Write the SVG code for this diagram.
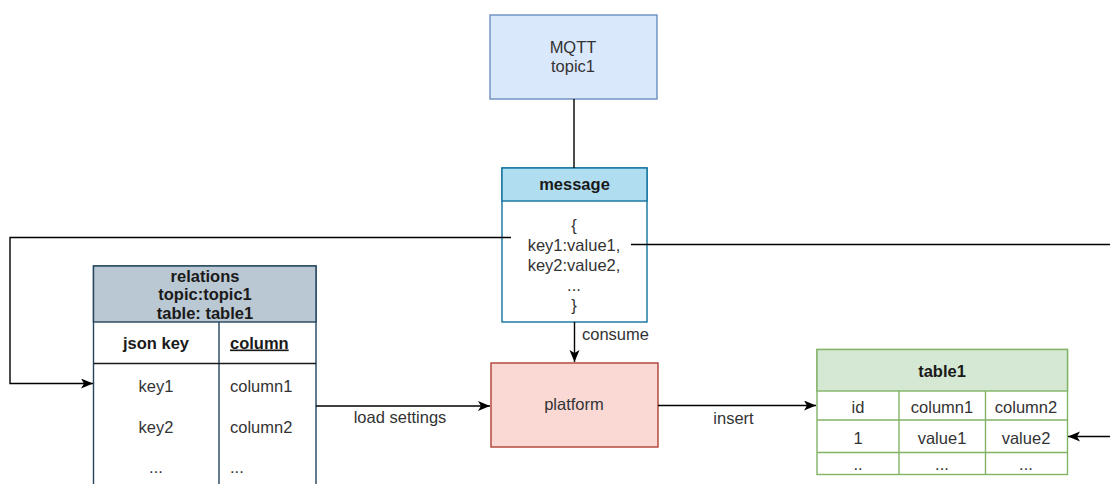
<svg xmlns="http://www.w3.org/2000/svg" width="1110" height="484" viewBox="0 0 1110 484">
<defs>
<style>
text{font-family:"Liberation Sans",Arial,sans-serif;font-size:16.5px;fill:#333333}
.c{text-anchor:middle}
.b{font-weight:bold;fill:#1a1a1a}
.edge{fill:none;stroke:#000;stroke-width:1.4}
</style>
<marker id="arr" markerUnits="userSpaceOnUse" markerWidth="14" markerHeight="12" refX="12" refY="5" orient="auto">
<path d="M0,0 L12,5 L0,10 L3,5 Z" fill="#000"/>
</marker>
</defs>
<rect width="1110" height="484" fill="#ffffff"/>

<g id="mqtt">
<rect x="490" y="15" width="167" height="84" fill="#dae8fc" stroke="#6c8ebf" stroke-width="1.4"/>
<text class="c" x="573" y="52.5">MQTT</text>
<text class="c" x="573" y="72">topic1</text>
</g>

<g id="message">
<rect x="502" y="168" width="145" height="154" fill="#ffffff" stroke="#10739e" stroke-width="1.4"/>
<rect x="502" y="168" width="145" height="33" fill="#b1ddf0" stroke="#10739e" stroke-width="1.4"/>
<text class="c b" x="574.5" y="190">message</text>
<text class="c" x="574" y="231">{</text>
<text class="c" x="574" y="251">key1:value1,</text>
<text class="c" x="574" y="271">key2:value2,</text>
<text class="c" x="574" y="291">...</text>
<text class="c" x="574" y="311">}</text>
</g>

<g id="relations">
<rect x="93.5" y="266" width="222.5" height="240" fill="#ffffff" stroke="#23445d" stroke-width="1.4"/>
<rect x="93.5" y="266" width="222.5" height="56" fill="#bac8d3" stroke="#23445d" stroke-width="1.4"/>
<line x1="219" y1="322" x2="219" y2="490" stroke="#23445d" stroke-width="1.4"/>
<line x1="93.5" y1="363.5" x2="316" y2="363.5" stroke="#1a1a1a" stroke-width="1.4"/>
<text class="c b" x="205" y="281.5">relations</text>
<text class="c b" x="205" y="300">topic:topic1</text>
<text class="c b" x="205" y="319">table: table1</text>
<text class="c b" x="156" y="348.5">json key</text>
<text class="b" x="230" y="348.5" text-decoration="underline">column</text>
<text class="c" x="156" y="391.5">key1</text>
<text x="230" y="391.5">column1</text>
<text class="c" x="156" y="433">key2</text>
<text x="230" y="433">column2</text>
<text class="c" x="156" y="473">...</text>
<text x="230" y="473">...</text>
</g>

<g id="platform">
<rect x="491" y="363" width="167" height="84" fill="#fad9d5" stroke="#ae4132" stroke-width="1.4"/>
<text class="c" x="574" y="410">platform</text>
</g>

<g id="table1">
<rect x="817" y="349.5" width="250.5" height="125" fill="#ffffff" stroke="#82b366" stroke-width="1.4"/>
<rect x="817" y="349.5" width="250.5" height="41.5" fill="#d5e8d4" stroke="#82b366" stroke-width="1.4"/>
<line x1="817" y1="420" x2="1067.5" y2="420" stroke="#82b366" stroke-width="1.4"/>
<line x1="817" y1="452.5" x2="1067.5" y2="452.5" stroke="#82b366" stroke-width="1.4"/>
<line x1="899" y1="391" x2="899" y2="474.5" stroke="#82b366" stroke-width="1.4"/>
<line x1="985.5" y1="391" x2="985.5" y2="474.5" stroke="#82b366" stroke-width="1.4"/>
<text class="c b" x="942" y="377">table1</text>
<text class="c" x="858" y="413">id</text>
<text class="c" x="942" y="413">column1</text>
<text class="c" x="1026" y="413">column2</text>
<text class="c" x="858" y="443.5">1</text>
<text class="c" x="942" y="443.5">value1</text>
<text class="c" x="1026" y="443.5">value2</text>
<text class="c" x="858" y="470">..</text>
<text class="c" x="942" y="470">...</text>
<text class="c" x="1026" y="470">...</text>
</g>

<g id="connectors">
<path class="edge" d="M574,99 V168"/>
<path class="edge" d="M574.5,322 V362" marker-end="url(#arr)"/>
<path class="edge" d="M511,237.5 H10 V383.5 H93" marker-end="url(#arr)"/>
<path class="edge" d="M316,406 H490" marker-end="url(#arr)"/>
<path class="edge" d="M658,405.5 H816" marker-end="url(#arr)"/>
<path class="edge" d="M631,244.5 H1130 V436.5 H1068" marker-end="url(#arr)"/>
<text x="582" y="340">consume</text>
<text class="c" x="400" y="423">load settings</text>
<text class="c" x="733.5" y="424">insert</text>
</g>
</svg>
